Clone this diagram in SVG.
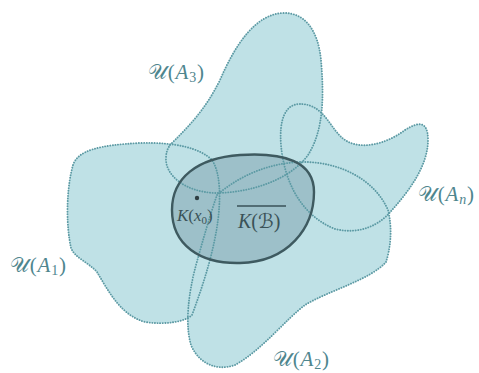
<svg xmlns="http://www.w3.org/2000/svg" xmlns:xlink="http://www.w3.org/1999/xlink" width="479" height="373" viewBox="0 0 479 373">
<style>
.fill{fill:#bfe1e6;stroke:none}
.outline{fill:none;stroke:#5c9aa4;stroke-width:1.9;stroke-dasharray:0.1 2.5;stroke-linecap:round}
.kfill{fill:#9dc0c9;stroke:none}
.kline{fill:none;stroke:#3e5a60;stroke-width:2.4}
.lbl{font-family:"Liberation Serif","DejaVu Serif",serif;font-size:21px;fill:#4f868e;letter-spacing:0.8px}
.klbl{font-family:"Liberation Serif","DejaVu Serif",serif;fill:#3a5257}
.it{font-style:italic}
.cal{font-family:"DejaVu Serif","DejaVu Sans",serif;font-style:normal;font-weight:normal}
</style>
<defs>
<path id="pA3" d="M170,145 C190,125 205,110 220,80 C235,45 255,15 282,13 C305,12 318,30 321,60 C324,95 324,130 308,155 C290,180 250,193 215,193 C185,192 165,175 166,158 C166,152 168,148 170,145 Z"/>
<path id="pA1" d="M73,165 C78,150 100,145 140,143 C175,142 200,148 212,160 C220,172 221,195 218,220 C214,250 205,280 192,315 C185,322 165,325 145,322 C120,315 108,290 97,272 C88,262 75,258 71,248 C66,225 66,190 73,165 Z"/>
<path id="pA2" d="M217,195 C240,175 270,163 300,162 C340,161 375,180 388,210 C393,230 390,250 386,262 C370,280 330,290 305,305 C285,320 262,350 235,365 C215,372 198,362 191,345 C185,325 188,295 196,265 C203,240 210,215 217,195 Z"/>
<path id="pAn" d="M300,104 C285,104 279,120 281,145 C284,180 300,215 335,229 C360,235 380,225 392,210 C410,190 428,165 428,140 C428,120 418,122 405,130 C385,145 360,150 345,140 C330,130 325,104 300,104 Z"/>
<path id="pK" d="M172,210 C172,178 197,158 240,155 C285,152 314,162 314,192 C314,228 288,262 240,263 C200,264 172,245 172,210 Z"/>
</defs>
<g id="fills">
<use xlink:href="#pA3" class="fill"/>
<use xlink:href="#pA1" class="fill"/>
<use xlink:href="#pA2" class="fill"/>
<use xlink:href="#pAn" class="fill"/>
<use xlink:href="#pK" class="kfill"/>
</g>
<g id="A3">
<use xlink:href="#pA3" class="outline"/>
<text class="lbl" x="148" y="79"><tspan class="cal">𝒰</tspan>(<tspan class="it">A</tspan><tspan font-size="14" dy="3">3</tspan><tspan dy="-3">)</tspan></text>
</g>
<g id="A1">
<use xlink:href="#pA1" class="outline"/>
<text class="lbl" x="10" y="272"><tspan class="cal">𝒰</tspan>(<tspan class="it">A</tspan><tspan font-size="14" dy="3">1</tspan><tspan dy="-3">)</tspan></text>
</g>
<g id="A2">
<use xlink:href="#pA2" class="outline"/>
<text class="lbl" x="273" y="366"><tspan class="cal">𝒰</tspan>(<tspan class="it">A</tspan><tspan font-size="14" dy="3">2</tspan><tspan dy="-3">)</tspan></text>
</g>
<g id="An">
<use xlink:href="#pAn" class="outline"/>
<text class="lbl" x="418" y="201"><tspan class="cal">𝒰</tspan>(<tspan class="it">A</tspan><tspan font-size="14" dy="3" class="it">n</tspan><tspan dy="-3">)</tspan></text>
</g>
<g id="KB">
<use xlink:href="#pK" class="kline"/>
<circle cx="197" cy="198" r="2.2" fill="#2f3f43"/>
<text class="klbl" x="177" y="221" font-size="17"><tspan class="it">K</tspan>(<tspan class="it">x</tspan><tspan font-size="11" dy="3">0</tspan><tspan dy="-3">)</tspan></text>
<line x1="237" y1="206" x2="286" y2="206" stroke="#3a5257" stroke-width="1.3"/>
<text class="klbl" x="238" y="228" font-size="20"><tspan class="it">K</tspan>(<tspan class="cal">ℬ</tspan>)</text>
</g>
<g id="connectors"/>
</svg>
